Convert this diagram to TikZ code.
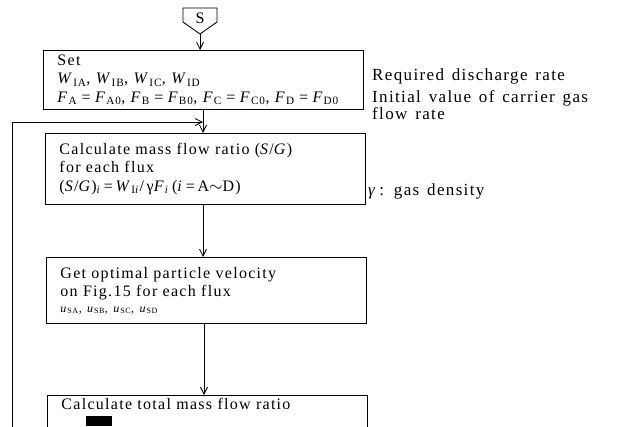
\documentclass[tikz,border=0pt]{standalone}
\usepackage{fontspec}
\setmainfont{Liberation Serif}[LetterSpace=8, WordSpace=1.4]
\usetikzlibrary{arrows.meta}
\newcommand{\myit}[1]{\textit{#1}}
\newcommand{\mysub}[1]{\textsubscript{#1}}
\begin{document}
\begin{tikzpicture}[x=1pt,y=-1pt,
  font=\fontsize{16}{18.5}\selectfont,
  box/.style={draw, line width=0.9pt, anchor=north west, text width=292pt,
    inner xsep=14pt, inner ysep=2pt, align=left},
  arr/.style={-{Straight Barb[length=7pt,width=7pt]}, line width=0.8pt},
  note/.style={anchor=base west, align=left, inner sep=0pt,
    font=\fontsize{17}{17}\selectfont}]
\useasboundingbox (0,0) rectangle (620,426);
\clip (0,0) rectangle (620,426);
% start symbol
\draw[line width=0.9pt] (183,8) -- (217,8) -- (217,22) -- (200,34) -- (183,22) -- cycle;
\node (s) at (200,18) {S};
\coordinate (sp) at (200,34);
% boxes
\node[box, minimum height=59pt] (b1) at (43,50)
  {Set\\ \myit{W}\mysub{IA}, \myit{W}\mysub{IB}, \myit{W}\mysub{IC}, \myit{W}\mysub{ID}\\
   \myit{F}\mysub{A}\;=\;\myit{F}\mysub{A0}, \myit{F}\mysub{B}\;=\;\myit{F}\mysub{B0}, \myit{F}\mysub{C}\;=\;\myit{F}\mysub{C0}, \myit{F}\mysub{D}\;=\;\myit{F}\mysub{D0}};
\node[box, minimum height=71pt] (b2) at (45,133)
  {Calculate mass flow ratio (\myit{S}/\myit{G})\\ for each flux\\
   (\myit{S}/\myit{G})\mysub{\myit{i}}\,=\,\myit{W}\mysub{I\myit{i}}/\,γ\myit{F}\mysub{\myit{i}}\,(\myit{i}\,=\,A$\sim$D)};
\node[box, minimum height=66pt] (b3) at (46,257)
  {Get optimal particle velocity\\ on Fig.15 for each flux\\[-3pt]
   {\fontsize{12}{13}\selectfont\myit{u}\mysub{SA}, \myit{u}\mysub{SB}, \myit{u}\mysub{SC}, \myit{u}\mysub{SD}}};
\node[box, minimum height=60pt] (b4) at (47,395)
  {Calculate total mass flow ratio\\ \strut\\ \strut};
% notes
\node[note] (n1) at (372,80) {Required discharge rate};
\node[note] (n2) at (372,119) {Initial value of carrier gas\\ flow rate};
\node[note] (n3) at (368,195) {\myit{γ}\,: gas density};
% connectors
\draw[arr] (sp) -- (b1.north -| sp);
\draw[arr] (b1.south -| 203,0) -- (b2.north -| 203,0);
\coordinate (lp) at (12,440);
\draw[arr] (lp) |- (203,122);
\draw[arr] (b2.south -| 203,0) -- (b3.north -| 203,0);
\draw[arr] (b3.south -| 204,0) -- (b4.north -| 204,0);
% scan mark
\fill (86,416) rectangle (112,426);
\end{tikzpicture}
\end{document}
